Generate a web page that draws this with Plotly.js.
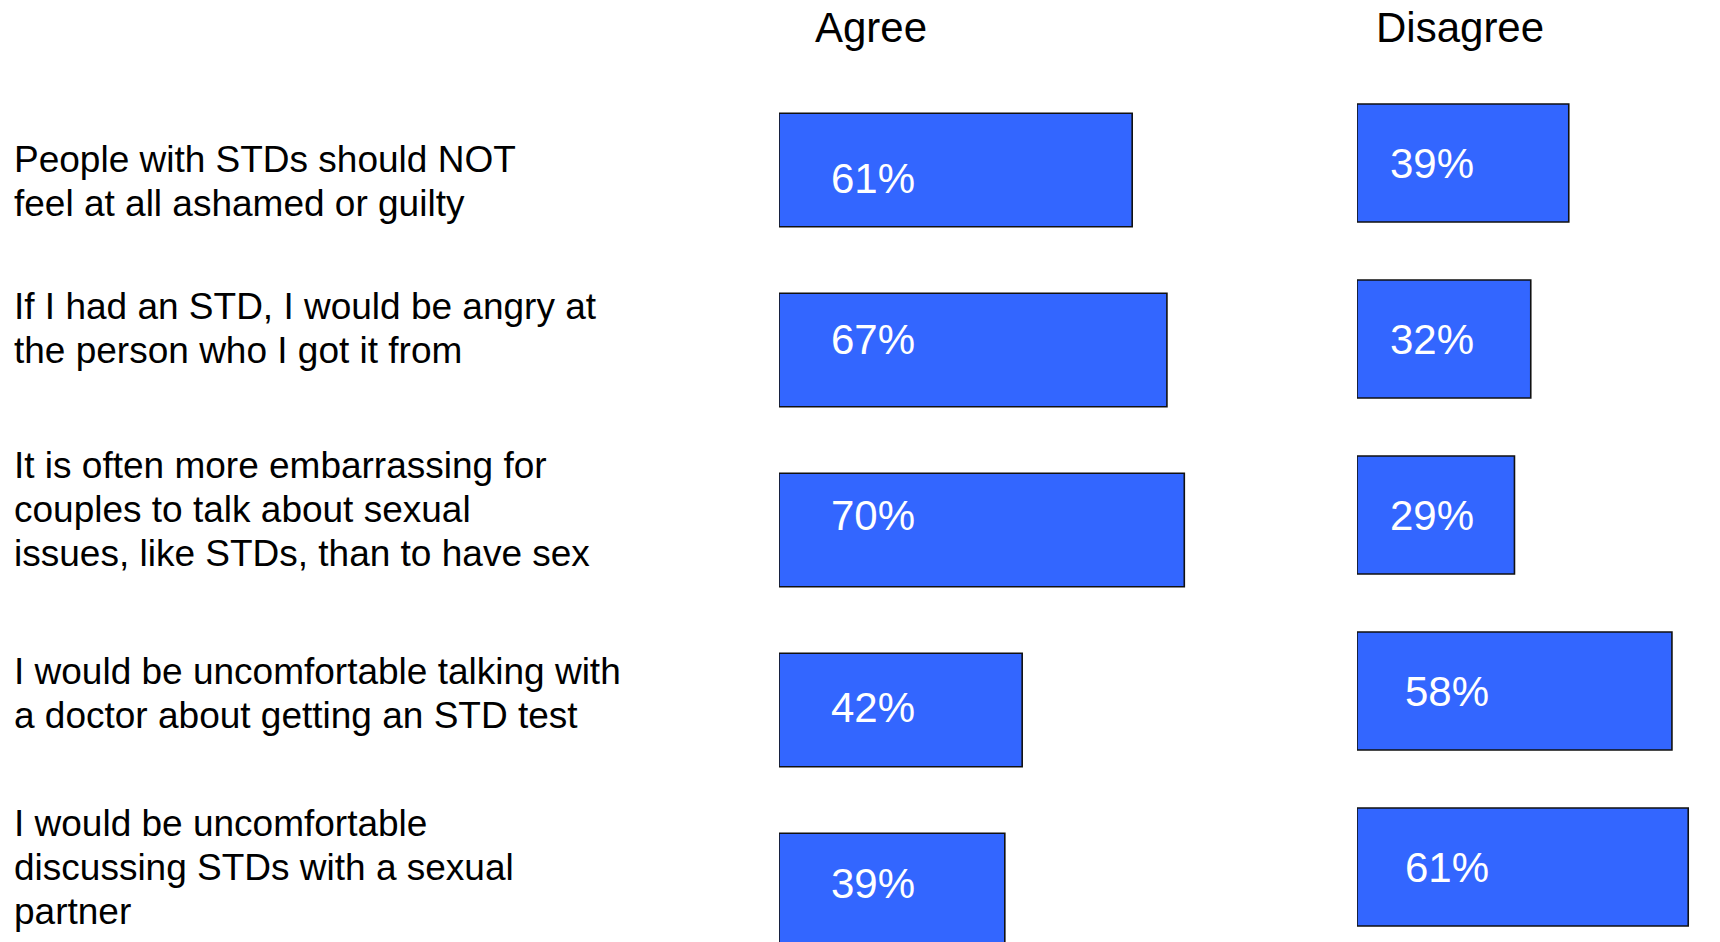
<!DOCTYPE html>
<html>
<head>
<meta charset="utf-8">
<script src="https://cdn.plot.ly/plotly-3.0.1.min.js"></script>
<style>
html,body{margin:0;padding:0;background:#fff;}
#chart{width:1720px;height:942px;}
</style>
</head>
<body>
<div id="chart"></div>
<script>
// ---- data ----
var statements = [
  "People with STDs should NOT<br>feel at all ashamed or guilty",
  "If I had an STD, I would be angry at<br>the person who I got it from",
  "It is often more embarrassing for<br>couples to talk about sexual<br>issues, like STDs, than to have sex",
  "I would be uncomfortable talking with<br>a doctor about getting an STD test",
  "I would be uncomfortable<br>discussing STDs with a sexual<br>partner"
];
var categories = ["s1", "s2", "s3", "s4", "s5"];
var agreeValues = [61, 67, 70, 42, 39];
var disagreeValues = [39, 32, 29, 58, 61];
var columnHeaders = ["Agree", "Disagree"];

// ---- styling / layout details (not data) ----
var W = 1720, H = 942;
var barColor = "#3366ff";
var font = "Liberation Sans, Arial, Helvetica, sans-serif";
var agreeTextShiftY = [-8, 11, 15, 3, 7];
var disagreeTextShiftX = [31, 31, 31, 46, 46];
var labelShiftY = [-18, 11, 6, -2, 0];
var labelLineGap = 44;

function pct(v){ return v + "%"; }

var traces = [
  {
    type: "bar", orientation: "h",
    y: categories, x: agreeValues,
    xaxis: "x", yaxis: "y",
    width: 0.63,
    marker: {color: barColor, line: {color: "#111111", width: 1.6}},
    hoverinfo: "x", showlegend: false
  },
  {
    type: "bar", orientation: "h",
    y: categories, x: disagreeValues,
    xaxis: "x2", yaxis: "y2",
    width: 0.67,
    marker: {color: barColor, line: {color: "#111111", width: 1.6}},
    hoverinfo: "x", showlegend: false
  }
];

var annotations = [];
categories.forEach(function(c, i){
  annotations.push({
    xref: "x", yref: "y", x: 0, y: c,
    text: pct(agreeValues[i]),
    xanchor: "left", yanchor: "middle",
    xshift: 50, yshift: agreeTextShiftY[i],
    showarrow: false,
    font: {family: font, size: 42, color: "#ffffff"}
  });
  annotations.push({
    xref: "x2", yref: "y2", x: 0, y: c,
    text: pct(disagreeValues[i]),
    xanchor: "left", yanchor: "middle",
    xshift: disagreeTextShiftX[i],
    showarrow: false,
    font: {family: font, size: 42, color: "#ffffff"}
  });
  var lines = statements[i].split("<br>");
  lines.forEach(function(line, j){
    annotations.push({
      xref: "paper", yref: "y2", x: 12 / W, y: c,
      text: line,
      xanchor: "left", yanchor: "middle", align: "left",
      yshift: labelShiftY[i] - (j - (lines.length - 1) / 2) * labelLineGap,
      showarrow: false,
      font: {family: font, size: 37, color: "#000000"}
    });
  });
});
annotations.push({
  xref: "paper", yref: "paper", x: 871 / W, y: 1 - 28 / H,
  text: columnHeaders[0], xanchor: "center", yanchor: "middle",
  showarrow: false, font: {family: font, size: 42, color: "#000000"}
});
annotations.push({
  xref: "paper", yref: "paper", x: 1460 / W, y: 1 - 28 / H,
  text: columnHeaders[1], xanchor: "center", yanchor: "middle",
  showarrow: false, font: {family: font, size: 42, color: "#000000"}
});

var hiddenAxis = {showgrid: false, zeroline: false, showline: false, showticklabels: false, ticks: "", fixedrange: true};

var layout = {
  width: W, height: H,
  margin: {l: 0, r: 0, t: 0, b: 0, pad: 0},
  paper_bgcolor: "#ffffff", plot_bgcolor: "rgba(0,0,0,0)",
  showlegend: false,
  xaxis: Object.assign({}, hiddenAxis, {domain: [779 / W, 1300 / W], range: [0, 521 / 5.79]}),
  yaxis: Object.assign({}, hiddenAxis, {domain: [0, 1], anchor: "x", type: "category", range: [(942 - 170) / 180, -170 / 180]}),
  xaxis2: Object.assign({}, hiddenAxis, {domain: [1357 / W, 1], anchor: "y2", range: [0, 363 / 5.43]}),
  yaxis2: Object.assign({}, hiddenAxis, {domain: [0, 1], anchor: "x2", type: "category", range: [(942 - 163) / 176, -163 / 176]}),
  annotations: annotations
};

Plotly.newPlot("chart", traces, layout, {displayModeBar: false, staticPlot: true});
</script>
</body>
</html>
